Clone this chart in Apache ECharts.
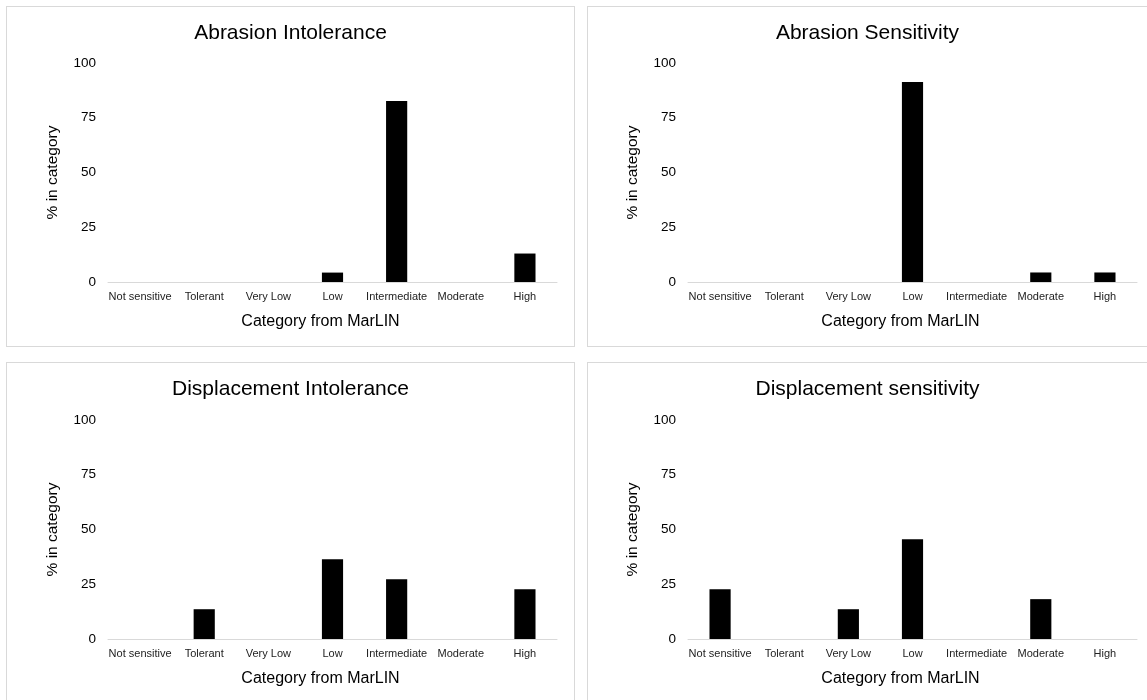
<!DOCTYPE html>
<html>
<head>
<meta charset="utf-8">
<script src="https://cdn.jsdelivr.net/npm/echarts@6/dist/echarts.min.js"></script>
<style>
  html, body { margin: 0; padding: 0; background: #fff; width: 1147px; height: 700px; overflow: hidden; }
  .panel { position: absolute; border: 1px solid #d9d9d9; box-sizing: border-box; background: #fff; }
  .panel > div { width: 100%; height: 100%; }
</style>
</head>
<body>
<div class="panel" style="left:6px;top:6px;width:569px;height:341px;"><div id="c1"></div></div>
<div class="panel" style="left:587px;top:6px;width:561px;height:341px;"><div id="c2"></div></div>
<div class="panel" style="left:6px;top:362px;width:569px;height:345px;"><div id="c3"></div></div>
<div class="panel" style="left:587px;top:362px;width:561px;height:345px;"><div id="c4"></div></div>
<script>
const categories = ["Not sensitive", "Tolerant", "Very Low", "Low", "Intermediate", "Moderate", "High"];
const yTicks = [0, 25, 50, 75, 100];
const abrasionIntolerance = [0, 0, 0, 4.3, 82.6, 0, 13.0];
const abrasionSensitivity = [0, 0, 0, 91.3, 0, 4.35, 4.35];
const displacementIntolerance = [0, 13.6, 0, 36.4, 27.3, 0, 22.7];
const displacementSensitivity = [22.7, 0, 13.6, 45.5, 0, 18.2, 0];
const titles = ["Abrasion Intolerance", "Abrasion Sensitivity", "Displacement Intolerance", "Displacement sensitivity"];
const xAxisName = "Category from MarLIN";
const yAxisName = "% in category";

const FONT = "'Liberation Sans', Arial, sans-serif";

function makeOption(title, values, gridLeft, gridTop) {
  return {
    animation: false,
    textStyle: { fontFamily: FONT },
    title: {
      text: title, left: 'center', top: 11,
      textStyle: { fontFamily: FONT, fontSize: 21, fontWeight: 'normal', color: '#000' }
    },
    grid: { left: gridLeft, top: gridTop, width: 449, height: 219 },
    xAxis: {
      type: 'category', data: categories,
      name: xAxisName, nameLocation: 'middle', nameGap: 32,
      nameTextStyle: { fontFamily: FONT, fontSize: 16, color: '#000', padding: [0, 24, 0, 0] },
      axisLine: { lineStyle: { color: '#d9d9d9', width: 1 } },
      axisTick: { show: false },
      axisLabel: { interval: 0, fontFamily: FONT, fontSize: 11, color: '#222', margin: 9 }
    },
    yAxis: {
      type: 'value', min: yTicks[0], max: yTicks[yTicks.length - 1], interval: yTicks[1] - yTicks[0],
      name: yAxisName, nameLocation: 'middle', nameGap: 47,
      nameTextStyle: { fontFamily: FONT, fontSize: 15.5, color: '#000' },
      axisLine: { show: false }, axisTick: { show: false }, splitLine: { show: false },
      axisLabel: { fontFamily: FONT, fontSize: 13.5, color: '#000', margin: 12 }
    },
    series: [{
      type: 'bar', data: values, barWidth: '33%',
      itemStyle: { color: '#000' }
    }]
  };
}

const specs = [
  ['c1', titles[0], abrasionIntolerance, 101, 56],
  ['c2', titles[1], abrasionSensitivity, 100, 56],
  ['c3', titles[2], displacementIntolerance, 101, 57],
  ['c4', titles[3], displacementSensitivity, 100, 57]
];
specs.forEach(s => {
  const chart = echarts.init(document.getElementById(s[0]), null, { renderer: 'canvas' });
  chart.setOption(makeOption(s[1], s[2], s[3], s[4]));
});
</script>
</body>
</html>
